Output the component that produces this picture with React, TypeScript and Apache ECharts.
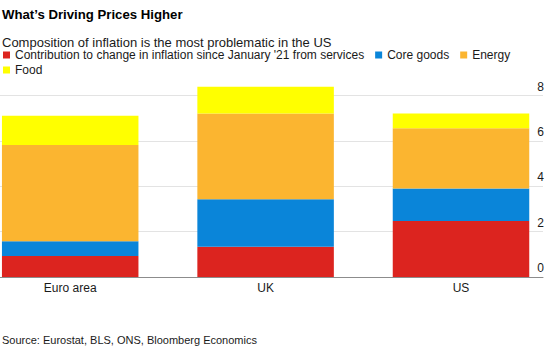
import React, { useEffect, useRef } from "react";
import * as echarts from "echarts";

const categories = ["Euro area", "UK", "US"];
const services = [0.93, 1.33, 2.47];
const coreGoods = [0.65, 2.1, 1.44];
const energy = [4.25, 3.79, 2.65];
const food = [1.28, 1.18, 0.66];
const yTicks = [0, 2, 4, 6, 8];

const seriesNames = [
  "Contribution to change in inflation since January '21 from services",
  "Core goods",
  "Energy",
  "Food",
];
const colors = ["#dc241f", "#0a85d9", "#fbb530", "#ffff00"];

const FONT = "'Liberation Sans', Arial, Helvetica, sans-serif";
const TEXT = "#1a1a1a";

export default function App() {
  const ref = useRef<HTMLDivElement>(null);
  useEffect(() => {
    if (!ref.current) return;
    const chart = echarts.init(ref.current, null, { renderer: "svg" });
    const values = [services, coreGoods, energy, food];
    const top = 95.7;
    const height = 181.3;
    const legendText = { fontSize: 12, color: TEXT, fontFamily: FONT };
    chart.setOption({
      animation: false,
      textStyle: { fontFamily: FONT, color: TEXT },
      title: [
        {
          text: "What\u2019s Driving Prices Higher",
          left: 2,
          top: 7.5,
          padding: 0,
          textStyle: { fontSize: 13.2, fontWeight: "bold", color: "#000", fontFamily: FONT },
        },
        {
          text: "Composition of inflation is the most problematic in the US",
          left: 2,
          top: 35.5,
          padding: 0,
          textStyle: { fontSize: 13, fontWeight: "normal", color: TEXT, fontFamily: FONT },
        },
        {
          text: "Source: Eurostat, BLS, ONS, Bloomberg Economics",
          left: 2,
          top: 334,
          padding: 0,
          textStyle: { fontSize: 11, fontWeight: "normal", color: TEXT, fontFamily: FONT },
        },
      ],
      legend: [
        {
          data: seriesNames.slice(0, 3),
          left: 3,
          top: 49,
          padding: 0,
          itemWidth: 7,
          itemHeight: 7,
          itemGap: 11,
          icon: "rect",
          selectedMode: false,
          textStyle: legendText,
        },
        {
          data: [seriesNames[3]],
          left: 3,
          top: 64,
          padding: 0,
          itemWidth: 7,
          itemHeight: 7,
          icon: "rect",
          selectedMode: false,
          textStyle: legendText,
        },
      ],
      grid: [
        { left: 70.2, width: 390.8, top, height, containLabel: false },
        { left: 0, width: 543, top, height, containLabel: false },
      ],
      xAxis: [
        {
          type: "category",
          gridIndex: 0,
          data: categories,
          boundaryGap: false,
          axisLine: { show: false },
          axisTick: { show: false },
          splitLine: { show: false },
          axisLabel: { fontSize: 12, color: TEXT, margin: 5, fontFamily: FONT },
        },
        {
          type: "category",
          gridIndex: 1,
          data: categories,
          axisLine: { show: true, lineStyle: { color: "#8c8c8c", width: 1 } },
          axisTick: { show: false },
          axisLabel: { show: false },
          z: 5,
        },
      ],
      yAxis: [
        {
          type: "value",
          gridIndex: 0,
          min: 0,
          max: 8,
          interval: 2,
          show: false,
          splitLine: { show: false },
        },
        {
          type: "value",
          gridIndex: 1,
          position: "right",
          min: 0,
          max: 8,
          interval: 2,
          axisLine: { show: false },
          axisTick: { show: false },
          splitLine: { show: true, lineStyle: { color: "#e3e3e3", width: 1 } },
          axisLabel: {
            inside: true,
            margin: -1,
            verticalAlign: "bottom",
            lineHeight: 18,
            fontSize: 12,
            color: TEXT,
            fontFamily: FONT,
            customValues: yTicks,
          },
        },
      ],
      series: seriesNames.map((name, i) => ({
        name,
        type: "bar",
        stack: "total",
        xAxisIndex: 0,
        yAxisIndex: 0,
        barWidth: 136.5,
        clip: false,
        data: values[i],
        itemStyle: { color: colors[i] },
      })),
    });
    return () => chart.dispose();
  }, []);
  return (
    <div
      ref={ref}
      style={{ position: "fixed", left: 0, top: 0, width: 550, height: 354, background: "#fff" }}
    />
  );
}
